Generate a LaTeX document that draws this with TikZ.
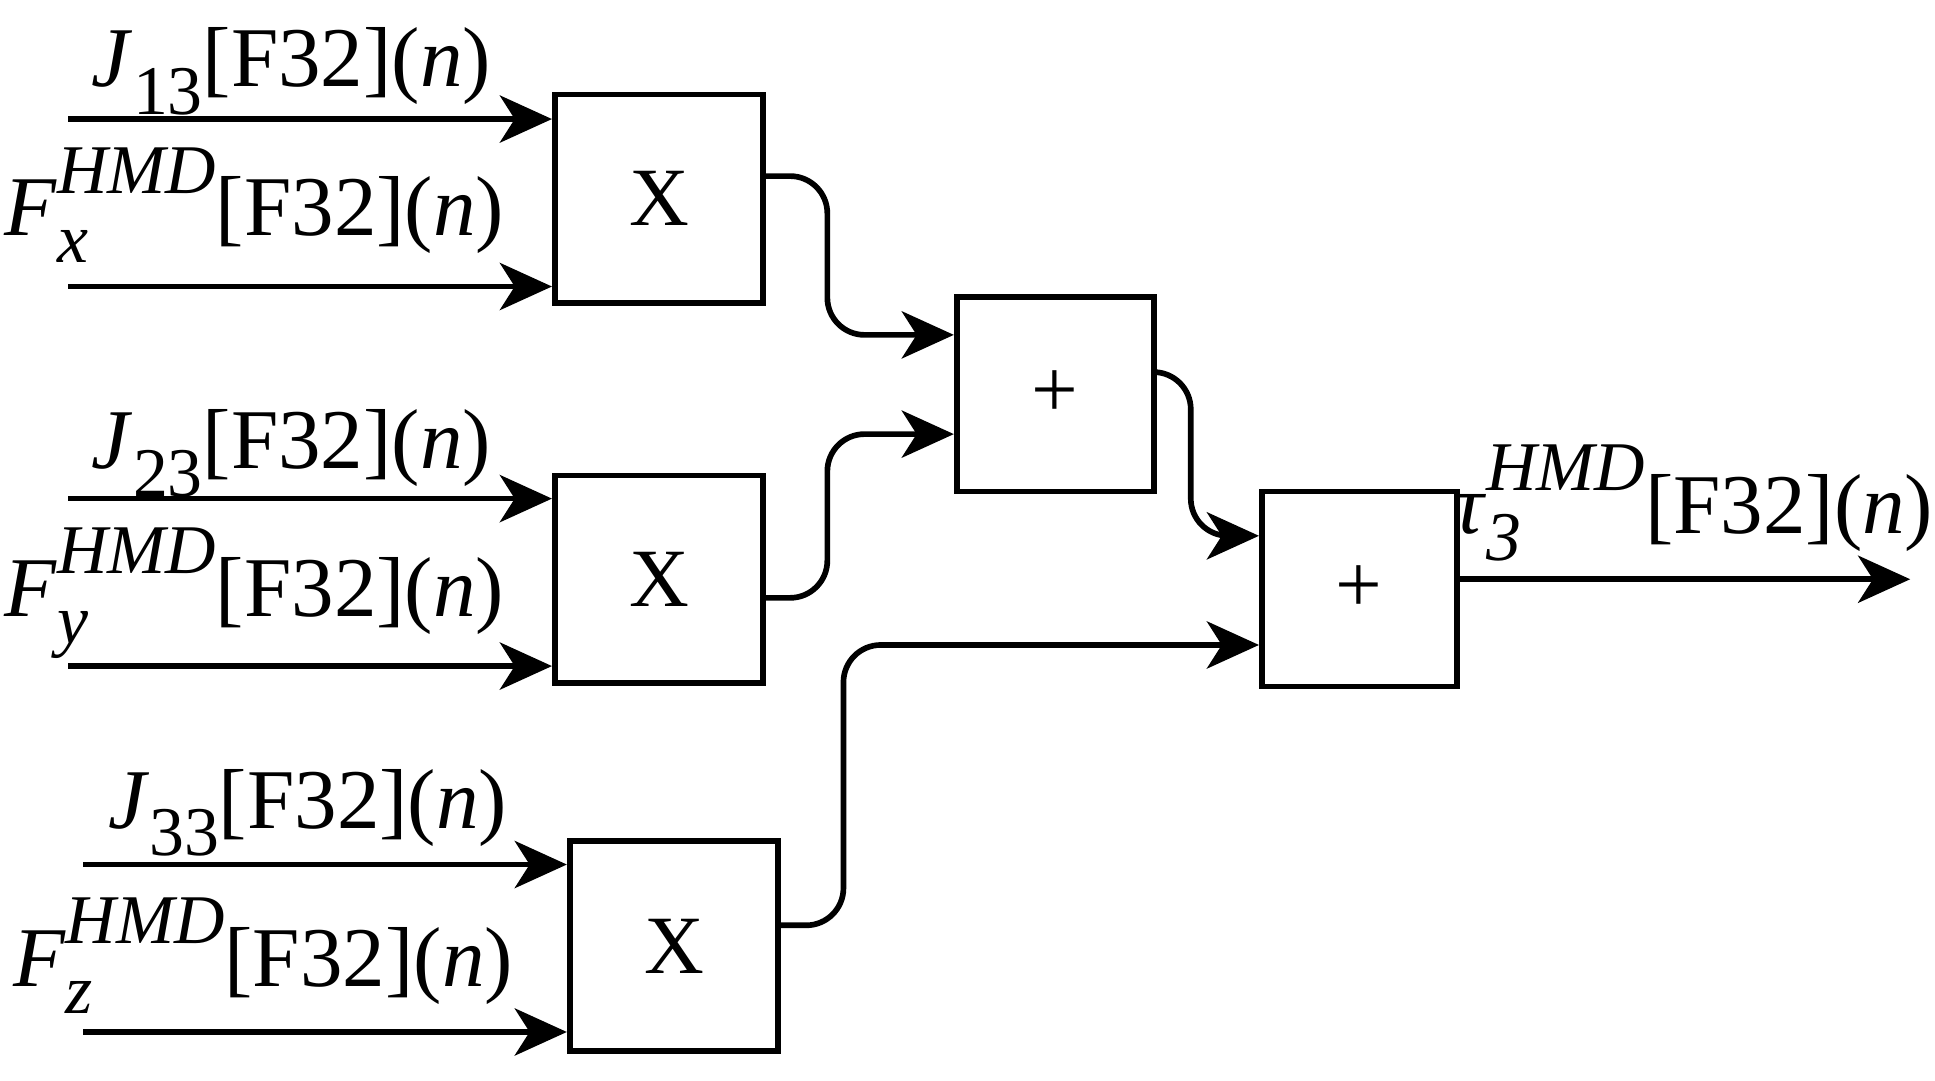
\documentclass[tikz,border=0pt]{standalone}
\usepackage{fontspec}
\setmainfont{Liberation Serif}
\usetikzlibrary{arrows.meta}
\newcommand{\mySS}[3]{\textit{#1}\makebox[0pt][l]{\raisebox{-0.32em}{\fontsize{16}{16}\selectfont\textit{#2}}}\raisebox{0.5em}{\fontsize{16}{16}\selectfont\textit{#3}}}
\newcommand{\mySub}[2]{\textit{#1}\raisebox{-0.32em}{\fontsize{16}{16}\selectfont #2}}
\begin{document}
\begin{tikzpicture}[x=0.01cm,y=-0.01cm,
  box/.style={draw,line width=1.3pt,inner sep=0pt,anchor=north west,font=\fontsize{19}{19}\selectfont},
  lab/.style={anchor=base,inner sep=0pt,font=\fontsize{19.5}{20}\selectfont},
  arr/.style={line width=1.3pt,-{Stealth[length=0.42cm,width=0.38cm,inset=0.12cm]}},
  con/.style={arr,rounded corners=0.3cm}]
\useasboundingbox (0,0) rectangle (1560,871);
\node[box,minimum width=1.68cm,minimum height=1.68cm] (x1) at (445,74) {X};
\node[box,minimum width=1.68cm,minimum height=1.67cm] (x2) at (445,381) {X};
\node[box,minimum width=1.68cm,minimum height=1.69cm] (x3) at (457,676) {X};
\node[box,minimum width=1.59cm,minimum height=1.57cm] (p1) at (769,237) {+};
\node[box,minimum width=1.57cm,minimum height=1.57cm] (p2) at (1015,394) {+};
% inputs
\coordinate (i1) at (55,96); \coordinate (i2) at (55,231);
\coordinate (i3) at (55,402); \coordinate (i4) at (55,537);
\coordinate (i5) at (67,697); \coordinate (i6) at (67,832);
\draw[arr] (i1) -- (i1 -| x1.west);
\draw[arr] (i2) -- (i2 -| x1.west);
\draw[arr] (i3) -- (i3 -| x2.west);
\draw[arr] (i4) -- (i4 -| x2.west);
\draw[arr] (i5) -- (i5 -| x3.west);
\draw[arr] (i6) -- (i6 -| x3.west);
% connections
\coordinate (a1) at (613,142); \coordinate (b1) at (769,270);
\draw[con] (a1) -- (667,142) -- (667,270) -- (b1);
\coordinate (a2) at (613,482); \coordinate (b2) at (769,350);
\draw[con] (a2) -- (667,482) -- (667,350) -- (b2);
\coordinate (a3) at (928,300); \coordinate (b3) at (1015,432);
\draw[con] (a3) -- (960,300) -- (960,432) -- (b3);
\coordinate (a4) at (625,746); \coordinate (b4) at (1015,520);
\draw[con] (a4) -- (680,746) -- (680,520) -- (b4);
\coordinate (o) at (1540,467);
\draw[arr] (o -| p2.east) -- (o);
% labels
\node[lab] (l1) at (235,70) {\mySub{J}{13}[F32](\textit{n})};
\node[lab] (l2) at (205,190) {\mySS{F}{x}{HMD}[F32](\textit{n})};
\node[lab] (l3) at (235,378) {\mySub{J}{23}[F32](\textit{n})};
\node[lab] (l4) at (205,497) {\mySS{F}{y}{HMD}[F32](\textit{n})};
\node[lab] (l5) at (248,668) {\mySub{J}{33}[F32](\textit{n})};
\node[lab] (l6) at (212,795) {\mySS{F}{z}{HMD}[F32](\textit{n})};
\node[lab] (l7) at (1365,430) {\mySS{τ}{3}{HMD}[F32](\textit{n})};
\end{tikzpicture}
\end{document}
